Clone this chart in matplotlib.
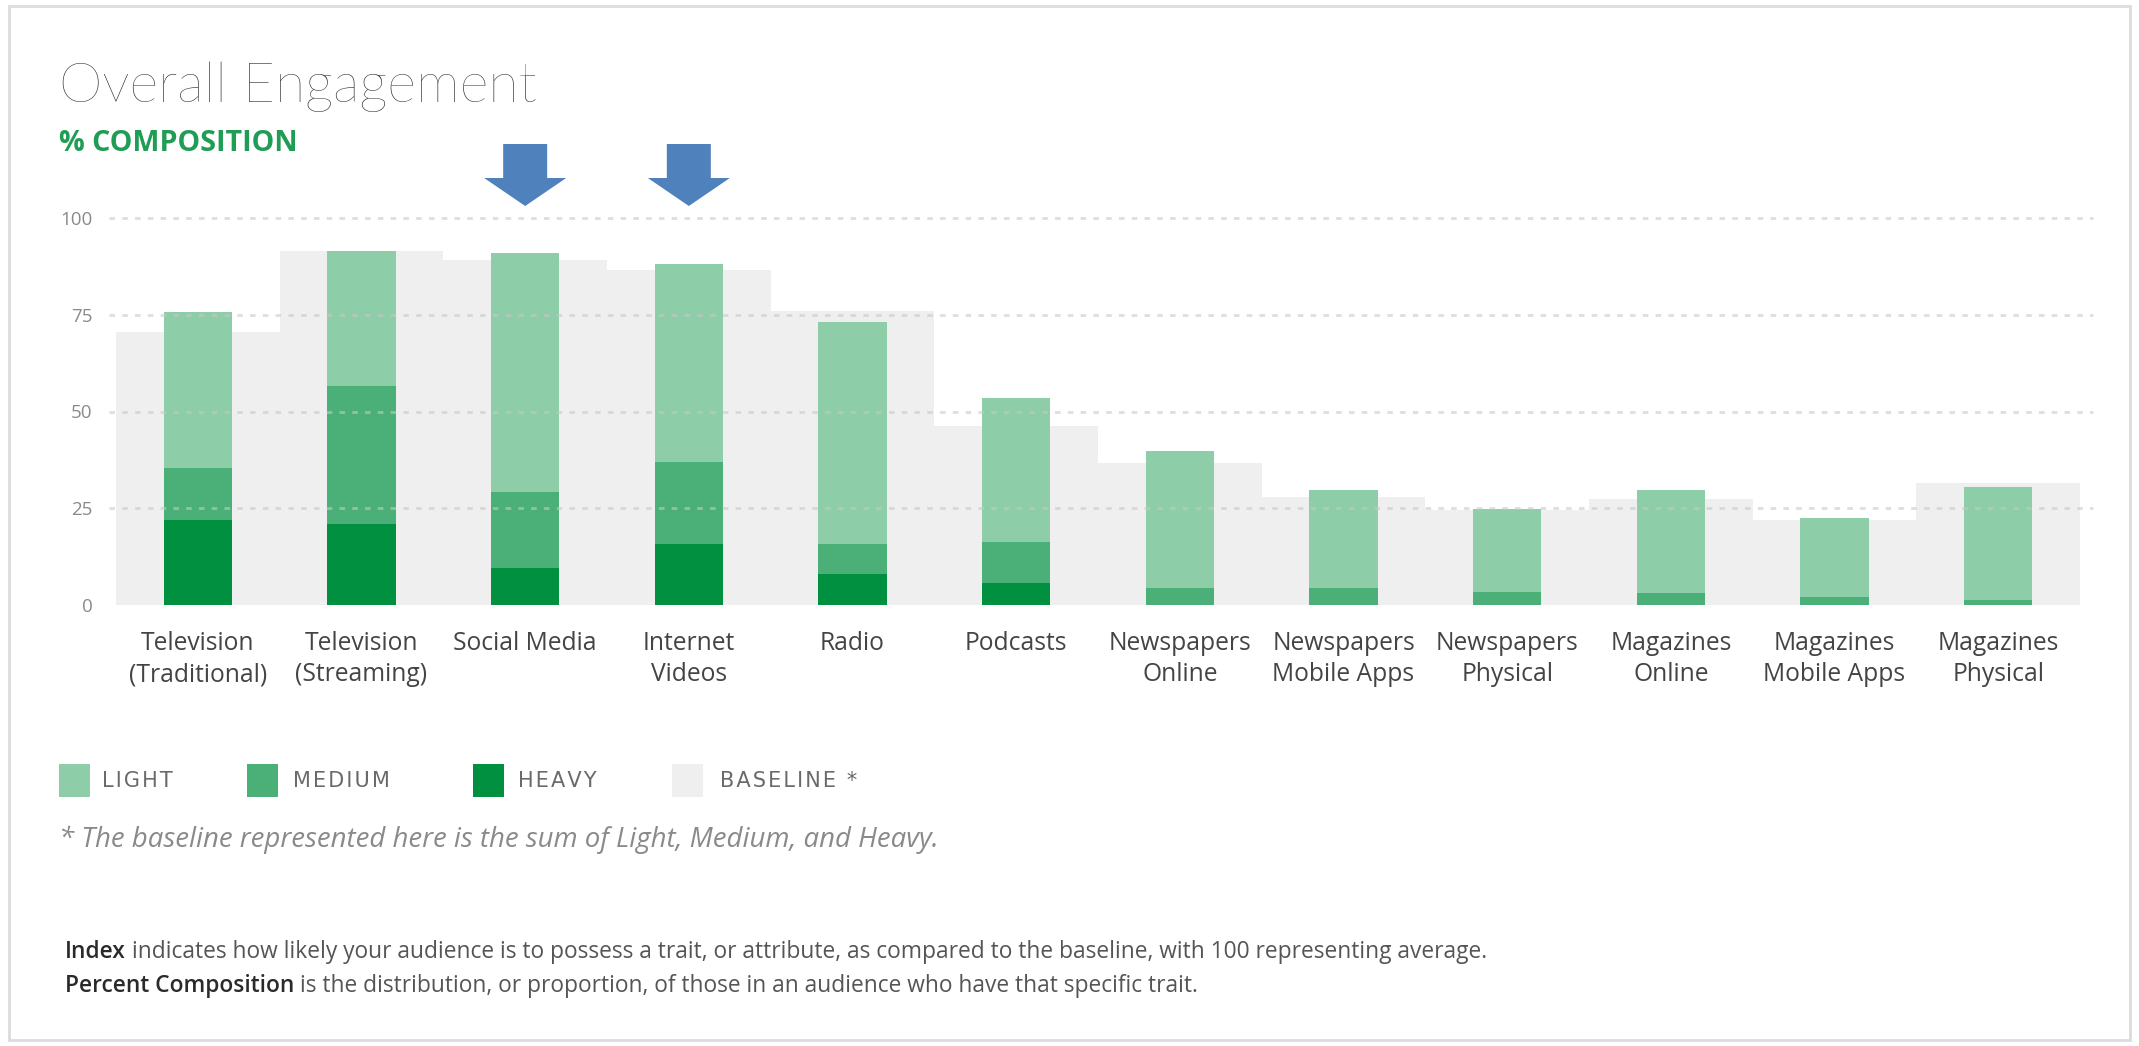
import matplotlib
matplotlib.use("Agg")
import matplotlib.pyplot as plt
from matplotlib.patches import Polygon, Rectangle
import numpy as np

# ---------------- data ----------------
categories = ["Television\n(Traditional)", "Television\n(Streaming)", "Social Media",
              "Internet\nVideos", "Radio", "Podcasts", "Newspapers\nOnline",
              "Newspapers\nMobile Apps", "Newspapers\nPhysical", "Magazines\nOnline",
              "Magazines\nMobile Apps", "Magazines\nPhysical"]
heavy = [22.0, 21.0, 9.6, 15.7, 8.0, 5.6, 0.0, 0.0, 0.0, 0.0, 0.0, 0.0]
medium = [13.3, 35.5, 19.7, 21.2, 7.7, 10.8, 4.4, 4.4, 3.4, 3.2, 2.0, 1.3]
light = [40.3, 34.9, 61.6, 51.3, 57.3, 37.1, 35.4, 25.3, 21.3, 26.5, 20.6, 29.1]
baseline = [70.6, 91.4, 89.1, 86.5, 75.9, 46.3, 36.6, 28.0, 24.5, 27.4, 21.9, 31.6]
yticks = [0, 25, 50, 75, 100]
arrow_targets = [2, 3]
legend_labels = ["LIGHT", "MEDIUM", "HEAVY", "BASELINE *"]

C_LIGHT = "#8dcea8"
C_MED = "#4bb078"
C_HEAVY = "#00903f"
C_BASE = "#efefef"

W, H = 2139, 1046
plt.rcParams['font.family'] = ['Open Sans', 'DejaVu Sans']
fig = plt.figure(figsize=(W / 100, H / 100), dpi=100)
renderer = fig.canvas.get_renderer()

def fx(x):
    return x / W

def fy(y):
    return 1 - y / H

def fit(t, target):
    w = t.get_window_extent(renderer=renderer).width
    t.set_fontsize(t.get_fontsize() * target / w)
    return t

# border
fig.patches.append(Rectangle((fx(9), fy(1040)), fx(2130) - fx(9), fy(6) - fy(1040),
                             transform=fig.transFigure, fill=False,
                             edgecolor="#dcdcdc", linewidth=2))

# axes placement
pitch = 163.7
left_px, right_px = 109, 2093
top_px, bot_px = 218, 605
ax = fig.add_axes([fx(left_px), fy(bot_px), fx(right_px) - fx(left_px), fy(top_px) - fy(bot_px)])
x = np.arange(len(categories))
ax.set_xlim(-0.5 - (116 - left_px) / pitch, 11.5 + (right_px - 2080) / pitch)
ax.set_ylim(0, 100)
for s in ax.spines.values():
    s.set_visible(False)
ax.patch.set_alpha(0)

ax.bar(x, baseline, width=1.0, color=C_BASE, zorder=1, linewidth=0)
ax.bar(x, heavy, width=0.417, color=C_HEAVY, zorder=2, linewidth=0)
bm = np.array(heavy)
ax.bar(x, medium, width=0.417, bottom=bm, color=C_MED, zorder=2, linewidth=0)
bl = bm + np.array(medium)
ax.bar(x, light, width=0.417, bottom=bl, color=C_LIGHT, zorder=2, linewidth=0)

for t in yticks[1:]:
    ax.axhline(t, color="#c8c8c8", linewidth=2.0, linestyle=(0, (2, 2.6)),
               alpha=0.6, zorder=3, clip_on=False)

# x tick label size fitted so "Social Media" is ~144 px wide
probe = fig.text(0, 0, "Social Media", fontsize=16)
fit(probe, 144)
xfs = probe.get_fontsize()
probe.remove()

ax.set_yticks(yticks)
ax.set_yticklabels([str(t) for t in yticks], fontsize=13.5, color="#8a8a8a")
ax.tick_params(axis='y', length=0, pad=12)
ax.set_xticks(x)
ax.set_xticklabels(categories, fontsize=xfs, color="#444444", linespacing=1.3)
ax.tick_params(axis='x', length=0, pad=19)

# arrows over highlighted categories
for idx in arrow_targets:
    cx = ax.transData.transform((idx, 0))[0]
    pts_px = [(cx - 22, 144), (cx + 22, 144), (cx + 22, 178), (cx + 41, 178),
              (cx, 206), (cx - 41, 178), (cx - 22, 178)]
    pts = [(fx(p[0]), fy(p[1])) for p in pts_px]
    fig.patches.append(Polygon(pts, closed=True, transform=fig.transFigure,
                               facecolor="#4f81bd", edgecolor="none"))

# titles
fig.text(fx(59), fy(102), "Overall Engagement", fontsize=40, fontweight='light',
         family=['Lato', 'DejaVu Sans'], color="#2e2e2e", va='baseline', ha='left')
t = fig.text(fx(59), fy(151), "% COMPOSITION", fontsize=18, fontweight='bold',
             color="#1f9d55", va='baseline', ha='left')
fit(t, 239)

# legend
sq_x = [59, 247, 473, 672]
lab_x = [102, 293, 518, 720]
sq_cols = [C_LIGHT, C_MED, C_HEAVY, C_BASE]
for sx, lx, col, lab in zip(sq_x, lab_x, sq_cols, legend_labels):
    fig.patches.append(Rectangle((fx(sx), fy(797)), fx(31), 33 / H,
                                 transform=fig.transFigure, facecolor=col, edgecolor='none'))
    fig.text(fx(lx), fy(781), "\u200a".join(lab), fontsize=15, color="#6a6a6a",
             family=['DejaVu Sans'], va='center', ha='left')

t = fig.text(fx(59), fy(840), "* The baseline represented here is the sum of Light, Medium, and Heavy.",
             fontsize=17, style='italic', color="#8a8a8a", va='center', ha='left')
fit(t, 880)

# definitions
def two_part(y, bold, rest, size):
    t1 = fig.text(fx(65), fy(y), bold, fontsize=size, fontweight='semibold', color="#2a2a2a",
                  va='center', ha='left')
    bb = t1.get_window_extent(renderer=renderer)
    t2 = fig.text(bb.x1 / W + fx(6), fy(y), rest, fontsize=size, color="#555555",
                  va='center', ha='left')
    return t1, t2

l1 = two_part(952, "Index", "indicates how likely your audience is to possess a trait, or attribute, as compared to the baseline, with 100 representing average.", 14)
w = l1[1].get_window_extent(renderer=renderer).x1 - l1[0].get_window_extent(renderer=renderer).x0
dfs = 14 * 1430 / w
for tt in l1:
    tt.remove()
two_part(952, "Index", "indicates how likely your audience is to possess a trait, or attribute, as compared to the baseline, with 100 representing average.", dfs)
two_part(986, "Percent Composition", "is the distribution, or proportion, of those in an audience who have that specific trait.", dfs)

fig.savefig("out.png", dpi=100)
